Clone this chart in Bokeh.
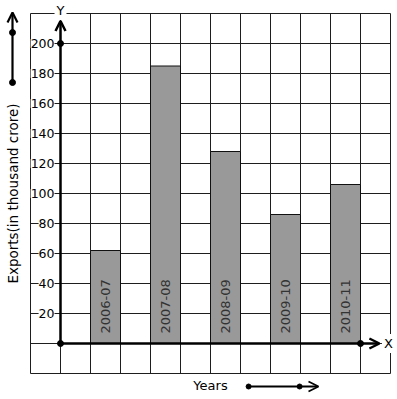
import math
from bokeh.plotting import figure
from bokeh.models import Range1d, Arrow, OpenHead
from bokeh.core.properties import value
from bokeh.embed import file_html
from bokeh.resources import INLINE

# ---- data ----
years = ["2006-07", "2007-08", "2008-09", "2009-10", "2010-11"]
exports = [62, 185, 128, 86, 106]
y_ticks = [20, 40, 60, 80, 100, 120, 140, 160, 180, 200]
y_tick_labels = [str(t) for t in y_ticks]
grid_x = list(range(-1, 12))           # vertical grid lines (cell units)
grid_y = list(range(-20, 221, 20))     # horizontal grid lines (value units)

FONT = value("DejaVu Sans")

p = figure(width=397, height=399,
           x_range=Range1d(-2, 337 / 30), y_range=Range1d(-37.333, 228.667),
           output_backend="svg", toolbar_location=None,
           x_axis_location=None, y_axis_location=None,
           min_border=0, min_border_left=0, min_border_right=0,
           min_border_top=0, min_border_bottom=0)
p.grid.visible = False
p.outline_line_color = None
p.background_fill_color = "white"
p.border_fill_color = "white"

gc = "#1e1e1e"
# vertical grid lines
p.segment(x0=grid_x, y0=[min(grid_y)] * len(grid_x), x1=grid_x, y1=[max(grid_y)] * len(grid_x),
          line_color=gc, line_width=1)
# horizontal grid lines
p.segment(x0=[min(grid_x)] * len(grid_y), y0=grid_y, x1=[max(grid_x)] * len(grid_y), y1=grid_y,
          line_color=gc, line_width=1)

# bars
centers = [1.5 + 2 * i for i in range(len(years))]
p.vbar(x=centers, top=exports, bottom=0, width=1, fill_color="#999999",
       line_color="#111111", line_width=1)

# labels inside bars
p.text(x=centers, y=[0] * len(years), text=years, angle=math.pi / 2,
       text_align="left", text_baseline="middle", y_offset=-10,
       text_font=FONT, text_font_size="13px", text_color="#333333")

# y tick labels
p.text(x=[-0.2] * len(y_ticks), y=y_ticks, text=y_tick_labels,
       text_align="right", text_baseline="middle",
       text_font=FONT, text_font_size="12.5px", text_color="black",
       background_fill_color="white")

# axes (thick with arrows)
p.add_layout(Arrow(end=OpenHead(size=10, line_width=2.5, line_color="black"),
                   x_start=0, y_start=0, x_end=0, y_end=215,
                   line_width=2.5, line_color="black"))
p.add_layout(Arrow(end=OpenHead(size=10, line_width=2.5, line_color="black"),
                   x_start=0, y_start=0, x_end=10.63, y_end=0,
                   line_width=2.5, line_color="black"))
p.scatter(x=[0, 0, 10], y=[0, 200, 0], size=6, color="black")

# decorative arrows
p.add_layout(Arrow(end=OpenHead(size=10, line_width=2.2, line_color="black"),
                   x_start=-1.6, y_start=174, x_end=-1.6, y_end=220.7,
                   line_width=2.2, line_color="black"))
p.scatter(x=[-1.6, -1.6], y=[174, 207.3], size=6, color="black")
p.add_layout(Arrow(end=OpenHead(size=10, line_width=1.8, line_color="black"),
                   x_start=6.27, y_start=-28.67, x_end=8.6, y_end=-28.67,
                   line_width=1.8, line_color="black"))
p.scatter(x=[6.27, 7.97], y=[-28.67, -28.67], size=5, color="black")

# axis letters
p.text(x=[0], y=[222], text=["Y"], text_align="center", text_baseline="middle",
       text_font=FONT, text_font_size="13px", text_color="black",
       background_fill_color="white", padding=2)
p.text(x=[10.93], y=[0], text=["X"], text_align="center", text_baseline="middle",
       text_font=FONT, text_font_size="13px", text_color="black",
       background_fill_color="white", padding=2)

# axis titles
p.text(x=[5], y=[-28], text=["Years"], text_align="center", text_baseline="middle",
       text_font=FONT, text_font_size="13px", text_color="black")
p.text(x=[-1.57], y=[100], text=["Exports(in thousand crore)"], angle=math.pi / 2,
       text_align="center", text_baseline="middle",
       text_font=FONT, text_font_size="13.5px", text_color="black")

open("out.html", "w").write(file_html(p, INLINE))
